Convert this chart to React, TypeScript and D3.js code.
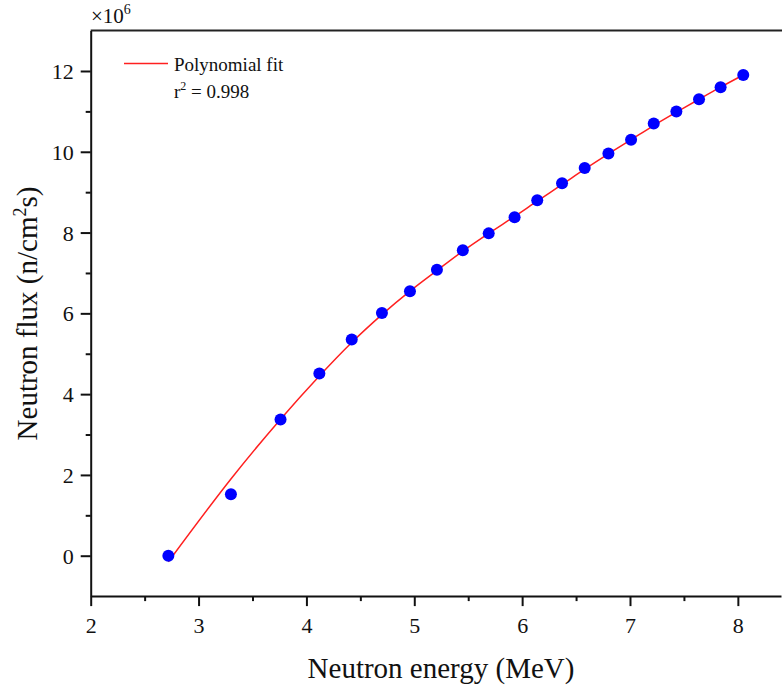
import React, { useEffect, useRef } from "react";
import * as d3 from "d3";

const energy = [2.72, 3.30, 3.76, 4.12, 4.42, 4.70, 4.96, 5.21, 5.45, 5.69, 5.93, 6.14, 6.37, 6.58, 6.80, 7.01, 7.22, 7.43, 7.64, 7.84, 8.05];
const flux = [0.0, 1.52, 3.37, 4.51, 5.35, 6.01, 6.55, 7.08, 7.56, 7.98, 8.38, 8.80, 9.22, 9.60, 9.96, 10.30, 10.70, 11.00, 11.30, 11.60, 11.90];

const fitEnergy = [2.72, 3.30, 3.76, 4.12, 4.42, 4.70, 4.96, 5.21, 5.45, 5.69, 5.93, 6.14, 6.37, 6.58, 6.80, 7.01, 7.22, 7.43, 7.64, 7.84, 8.05];
const fitFlux = [-0.15, 1.90, 3.38, 4.45, 5.28, 5.97, 6.55, 7.06, 7.54, 7.98, 8.40, 8.78, 9.19, 9.57, 9.95, 10.30, 10.65, 10.98, 11.30, 11.60, 11.90];

const xMajor = [2, 3, 4, 5, 6, 7, 8];
const xMinor = [2.5, 3.5, 4.5, 5.5, 6.5, 7.5];
const yMajor = [0, 2, 4, 6, 8, 10, 12];
const yMinor = [1, 3, 5, 7, 9, 11];

const FONT = "'Liberation Serif', 'Times New Roman', serif";

export default function App() {
  const ref = useRef<SVGSVGElement>(null);
  useEffect(() => {
    const svg = d3.select(ref.current);
    svg.selectAll("*").remove();
    const L = 90.7, R = 781, T = 30.6, B = 596.1;
    const x = d3.scaleLinear().domain([2, 8.4]).range([L, R]);
    const y = d3.scaleLinear().domain([-1, 13]).range([B, T]);

    svg.append("line").attr("x1", L).attr("x2", 782).attr("y1", T).attr("y2", T)
      .attr("stroke", "#222").attr("stroke-width", 2);

    const gx = svg.append("g").attr("transform", `translate(0,${B})`);
    gx.call(d3.axisBottom(x).tickValues(xMajor).tickSize(10).tickSizeOuter(0).tickFormat(d3.format("d")) as any);
    const gxm = svg.append("g").attr("transform", `translate(0,${B})`);
    gxm.call(d3.axisBottom(x).tickValues(xMinor).tickSize(5).tickSizeOuter(0).tickFormat(() => "") as any);
    gxm.select(".domain").remove();

    const gy = svg.append("g").attr("transform", `translate(${L},0)`);
    gy.call(d3.axisLeft(y).tickValues(yMajor).tickSize(10).tickSizeOuter(0).tickFormat(d3.format("d")) as any);
    const gym = svg.append("g").attr("transform", `translate(${L},0)`);
    gym.call(d3.axisLeft(y).tickValues(yMinor).tickSize(5).tickSizeOuter(0).tickFormat(() => "") as any);
    gym.select(".domain").remove();

    svg.selectAll("g").attr("font-family", null);
    svg.selectAll(".domain").attr("stroke", "#111").attr("stroke-width", 2);
    svg.selectAll(".tick line").attr("stroke", "#111").attr("stroke-width", 2);
    svg.selectAll(".tick text").style("font-family", FONT).style("font-size", "22px").attr("fill", "#111");
    gx.selectAll(".tick text").attr("dy", null).attr("y", 37);
    gy.selectAll(".tick text").attr("x", -17).attr("dy", "0.34em");

    const line = d3.line<number>().x((_, i) => x(fitEnergy[i])).y((d) => y(d)).curve(d3.curveCatmullRom);
    svg.append("path").attr("d", line(fitFlux) as string).attr("fill", "none")
      .attr("stroke", "#ff2020").attr("stroke-width", 1.5);

    svg.append("g").selectAll("circle").data(flux).join("circle")
      .attr("cx", (_, i) => x(energy[i])).attr("cy", (d) => y(d)).attr("r", 6)
      .attr("fill", "#0000ff");

    const m = svg.append("text").attr("x", 91).attr("y", 22.5).style("font-family", FONT)
      .style("font-size", "21px").attr("fill", "#111");
    m.append("tspan").text("×10");
    m.append("tspan").style("font-size", "14px").attr("dy", -9).text("6");

    svg.append("line").attr("x1", 124).attr("x2", 168).attr("y1", 63.5).attr("y2", 63.5)
      .attr("stroke", "#ff2020").attr("stroke-width", 1.5);
    svg.append("text").attr("x", 174).attr("y", 71).style("font-family", FONT).style("font-size", "19px")
      .attr("fill", "#111").text("Polynomial fit");
    const r2 = svg.append("text").attr("x", 174).attr("y", 98).style("font-family", FONT).style("font-size", "19px")
      .attr("fill", "#111");
    r2.append("tspan").text("r");
    r2.append("tspan").style("font-size", "12px").attr("dy", -8).text("2");
    r2.append("tspan").attr("dy", 8).text(" = 0.998");

    svg.append("text").attr("x", 441).attr("y", 678).attr("text-anchor", "middle")
      .style("font-family", FONT).style("font-size", "29px").attr("fill", "#111").text("Neutron energy (MeV)");
    const yt = svg.append("text").attr("transform", `translate(37,313.5) rotate(-90)`)
      .attr("text-anchor", "middle").style("font-family", FONT).style("font-size", "29px").attr("fill", "#111");
    yt.append("tspan").text("Neutron flux (n/cm");
    yt.append("tspan").style("font-size", "18px").attr("dy", -11).text("2");
    yt.append("tspan").attr("dy", 11).text("s)");
  }, []);
  return (
    <svg ref={ref} width={782} height={688}
      style={{ position: "absolute", left: 0, top: 0, background: "#fff" }} />
  );
}
